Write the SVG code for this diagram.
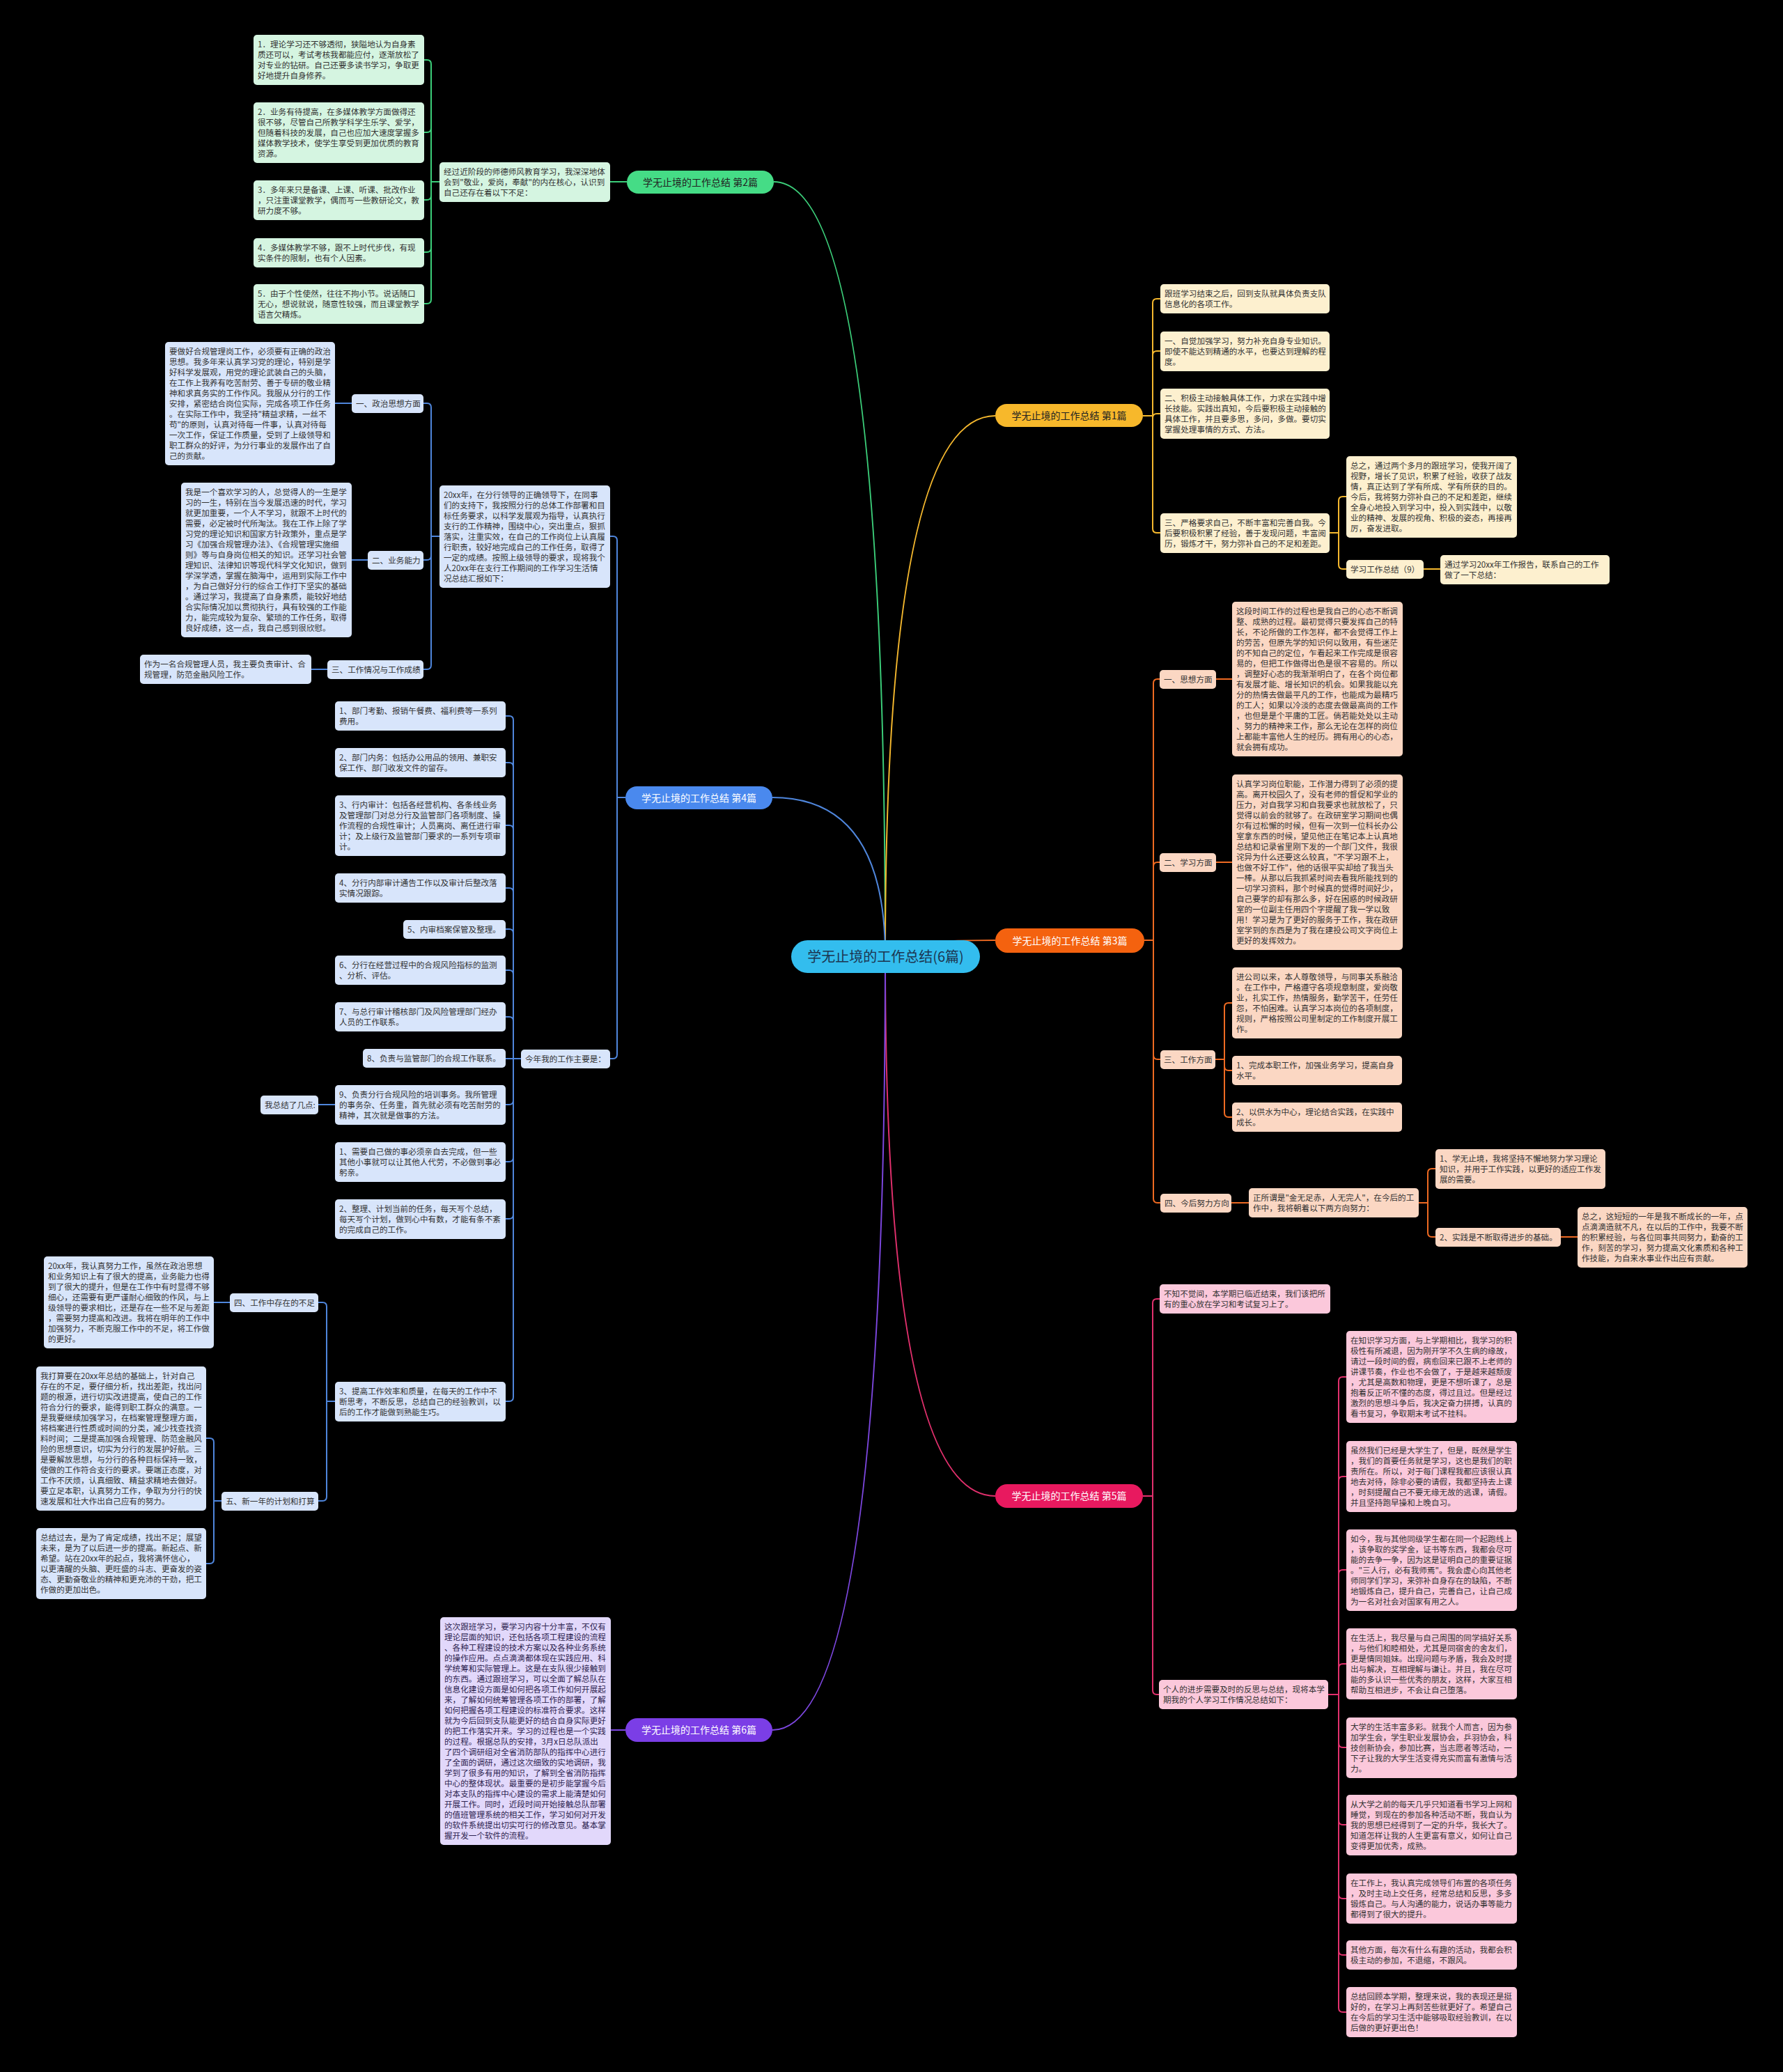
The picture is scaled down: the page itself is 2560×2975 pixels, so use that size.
<svg xmlns="http://www.w3.org/2000/svg" width="2560" height="2975" viewBox="0 0 2560 2975">
<style>
text{font-family:"Noto Sans CJK SC","Noto Sans",sans-serif;}
.t{font-size:11.6px;fill:#333;}
.bt{font-size:14px;fill:#fff;text-anchor:middle;}
.dk{fill:#222;}
.ct{font-size:20px;fill:#1c3550;text-anchor:middle;}
rect{rx:5px;}
.g{fill:#d5f5e1;}
.y{fill:#fdf0cf;}
.bl{fill:#d8e5fb;}
.o{fill:#fbd7c3;}
.p{fill:#fbc8db;}
.v{fill:#e2d8fb;}
path{fill:none;stroke-width:2;}
.cg{stroke:#3ccf7a;}
.cy{stroke:#f5b82e;}
.cb{stroke:#4f86dc;}
.co{stroke:#ee6a22;}
.cp{stroke:#e2306d;}
.cv{stroke:#7d47e0;}
</style>
<rect x="0" y="0" width="2560" height="2975" style="fill:#000;rx:0"/>

<g id="connectors">
<path class="cg" d="M1271 1373 Q1271 261 1111 261"/>
<path class="cy" d="M1271 1373 Q1271 597 1429 597"/>
<path class="cb" d="M1271 1373 Q1271 1145 1109 1145"/>
<path class="co" d="M1271 1373 Q1271 1350 1429 1350"/>
<path class="cp" d="M1271 1373 Q1271 2148 1429 2148"/>
<path class="cv" d="M1271 1373 Q1271 2484 1109 2484"/>
<!-- green -->
<path class="cg" d="M900 261 H876"/>
<path class="cg" d="M631 261 H619 V92 Q619 86 613 86 H609"/>
<path class="cg" d="M631 261 H619 V184 Q619 190 613 190 H609"/>
<path class="cg" d="M631 261 H619 V281 Q619 287 613 287 H609"/>
<path class="cg" d="M631 261 H619 V356 Q619 362 613 362 H609"/>
<path class="cg" d="M631 261 H619 V430 Q619 436 613 436 H609"/>
<!-- blue -->
<path class="cb" d="M898 1145 H886 V776 Q886 770 880 770 H876"/>
<path class="cb" d="M898 1145 H886 V1514 Q886 1520 880 1520 H876"/>
<path class="cb" d="M631 770 H619 V585 Q619 579 613 579 H608"/>
<path class="cb" d="M631 770 H619 V798 Q619 804 613 804 H608"/>
<path class="cb" d="M631 770 H619 V955 Q619 961 613 961 H608"/>
<path class="cb" d="M505 579 H481"/>
<path class="cb" d="M528 804 H505"/>
<path class="cb" d="M470 961 H447"/>
<path class="cb" d="M748 1520 H737 V1034 Q737 1028 731 1028 H726"/>
<path class="cb" d="M748 1520 H737 V1101 Q737 1095 731 1095 H726"/>
<path class="cb" d="M748 1520 H737 V1191 Q737 1185 731 1185 H726"/>
<path class="cb" d="M748 1520 H737 V1281 Q737 1275 731 1275 H726"/>
<path class="cb" d="M748 1520 H737 V1340 Q737 1334 731 1334 H726"/>
<path class="cb" d="M748 1520 H737 V1399 Q737 1393 731 1393 H726"/>
<path class="cb" d="M748 1520 H737 V1466 Q737 1460 731 1460 H726"/>
<path class="cb" d="M748 1520 H726"/>
<path class="cb" d="M748 1520 H737 V1580 Q737 1586 731 1586 H726"/>
<path class="cb" d="M748 1520 H737 V1662 Q737 1668 731 1668 H726"/>
<path class="cb" d="M748 1520 H737 V1744 Q737 1750 731 1750 H726"/>
<path class="cb" d="M748 1520 H737 V2006 Q737 2012 731 2012 H726"/>
<path class="cb" d="M481 1586 H457"/>
<path class="cb" d="M481 2012 H469 V1876 Q469 1870 463 1870 H457"/>
<path class="cb" d="M481 2012 H469 V2149 Q469 2155 463 2155 H457"/>
<path class="cb" d="M330 1870 H307"/>
<path class="cb" d="M318 2155 H307 V2071 Q307 2065 301 2065 H296"/>
<path class="cb" d="M318 2155 H307 V2239 Q307 2245 301 2245 H296"/>
<!-- purple -->
<path class="cv" d="M898 2484 H877"/>
<!-- yellow -->
<path class="cy" d="M1641 597 H1655 V435 Q1655 429 1661 429 H1666"/>
<path class="cy" d="M1641 597 H1655 V510 Q1655 504 1661 504 H1666"/>
<path class="cy" d="M1641 597 H1655 V600 Q1655 594 1661 594 H1666"/>
<path class="cy" d="M1641 597 H1655 V759 Q1655 765 1661 765 H1666"/>
<path class="cy" d="M1909 765 H1922 V719 Q1922 713 1928 713 H1933"/>
<path class="cy" d="M1909 765 H1922 V811 Q1922 817 1928 817 H1933"/>
<path class="cy" d="M2044 817 H2068"/>
<!-- orange -->
<path class="co" d="M1643 1350 H1656 V981 Q1656 975 1662 975 H1665"/>
<path class="co" d="M1643 1350 H1656 V1244 Q1656 1238 1662 1238 H1665"/>
<path class="co" d="M1643 1350 H1656 V1515 Q1656 1521 1662 1521 H1666"/>
<path class="co" d="M1643 1350 H1656 V1721 Q1656 1727 1662 1727 H1666"/>
<path class="co" d="M1746 975 H1769"/>
<path class="co" d="M1746 1238 H1769"/>
<path class="co" d="M1745 1521 H1758 V1446 Q1758 1440 1764 1440 H1769"/>
<path class="co" d="M1745 1521 H1758 V1531 Q1758 1537 1764 1537 H1769"/>
<path class="co" d="M1745 1521 H1758 V1598 Q1758 1604 1764 1604 H1769"/>
<path class="co" d="M1768 1727 H1793"/>
<path class="co" d="M2037 1727 H2050 V1684 Q2050 1678 2056 1678 H2061"/>
<path class="co" d="M2037 1727 H2050 V1770 Q2050 1776 2056 1776 H2061"/>
<path class="co" d="M2241 1776 H2265"/>
<!-- pink -->
<path class="cp" d="M1641 2148 H1655 V1871 Q1655 1865 1661 1865 H1665"/>
<path class="cp" d="M1641 2148 H1655 V2427 Q1655 2433 1661 2433 H1664"/>
<path class="cp" d="M1907 2433 H1922 V1983 Q1922 1977 1928 1977 H1933"/>
<path class="cp" d="M1907 2433 H1922 V2126 Q1922 2120 1928 2120 H1933"/>
<path class="cp" d="M1907 2433 H1922 V2260 Q1922 2254 1928 2254 H1933"/>
<path class="cp" d="M1907 2433 H1922 V2395 Q1922 2389 1928 2389 H1933"/>
<path class="cp" d="M1907 2433 H1922 V2503 Q1922 2509 1928 2509 H1933"/>
<path class="cp" d="M1907 2433 H1922 V2614 Q1922 2620 1928 2620 H1933"/>
<path class="cp" d="M1907 2433 H1922 V2720 Q1922 2726 1928 2726 H1933"/>
<path class="cp" d="M1907 2433 H1922 V2801 Q1922 2807 1928 2807 H1933"/>
<path class="cp" d="M1907 2433 H1922 V2883 Q1922 2889 1928 2889 H1933"/>
</g>

<g id="center"><rect x="1136" y="1350" width="271" height="47" style="fill:#33bdee;rx:23.5px"/><text class="ct" x="1271.5" y="1381">学无止境的工作总结(6篇)</text></g>

<g id="b2"><rect x="900" y="245" width="211" height="33" style="fill:#45dc86;rx:16.5px"/><text class="bt dk" x="1005.5" y="266.5">学无止境的工作总结 第2篇</text></g>
<g id="b1"><rect x="1429" y="580" width="212" height="33" style="fill:#f7b82b;rx:16.5px"/><text class="bt dk" x="1535" y="601.5">学无止境的工作总结 第1篇</text></g>
<g id="b4"><rect x="898" y="1129" width="211" height="33" style="fill:#4a89ee;rx:16.5px"/><text class="bt" x="1003.5" y="1150.5">学无止境的工作总结 第4篇</text></g>
<g id="b3"><rect x="1429" y="1333" width="214" height="35" style="fill:#f4620f;rx:17.5px"/><text class="bt" x="1536" y="1355.5">学无止境的工作总结 第3篇</text></g>
<g id="b5"><rect x="1429" y="2131" width="212" height="34" style="fill:#e8195f;rx:17px"/><text class="bt" x="1535" y="2153">学无止境的工作总结 第5篇</text></g>
<g id="b6"><rect x="898" y="2467" width="211" height="34" style="fill:#7b3ee6;rx:17px"/><text class="bt" x="1003.5" y="2489">学无止境的工作总结 第6篇</text></g>

<!-- green subtree -->
<g id="g0"><rect class="g" x="631" y="233" width="245" height="57"/><text class="t" x="637" y="251"><tspan x="637">经过近阶段的师德师风教育学习，我深深地体</tspan><tspan x="637" dy="15">会到"敬业，爱岗，奉献"的内在核心，认识到</tspan><tspan x="637" dy="15">自己还存在着以下不足：</tspan></text></g>
<g id="g1"><rect class="g" x="364" y="50" width="245" height="72"/><text class="t" x="370" y="68"><tspan x="370">1．理论学习还不够透彻，狭隘地认为自身素</tspan><tspan x="370" dy="15">质还可以，考试考核我都能应付，逐渐放松了</tspan><tspan x="370" dy="15">对专业的钻研。自己还要多读书学习，争取更</tspan><tspan x="370" dy="15">好地提升自身修养。</tspan></text></g>
<g id="g2"><rect class="g" x="364" y="147" width="245" height="87"/><text class="t" x="370" y="165"><tspan x="370">2．业务有待提高，在多媒体教学方面做得还</tspan><tspan x="370" dy="15">很不够，尽管自己所教学科学生乐学、爱学，</tspan><tspan x="370" dy="15">但随着科技的发展，自己也应加大速度掌握多</tspan><tspan x="370" dy="15">媒体教学技术，使学生享受到更加优质的教育</tspan><tspan x="370" dy="15">资源。</tspan></text></g>
<g id="g3"><rect class="g" x="364" y="259" width="245" height="57"/><text class="t" x="370" y="277"><tspan x="370">3．多年来只是备课、上课、听课、批改作业</tspan><tspan x="370" dy="15">，只注重课堂教学，偶而写一些教研论文，教</tspan><tspan x="370" dy="15">研力度不够。</tspan></text></g>
<g id="g4"><rect class="g" x="364" y="342" width="245" height="42"/><text class="t" x="370" y="360"><tspan x="370">4．多媒体教学不够，跟不上时代步伐，有现</tspan><tspan x="370" dy="15">实条件的限制，也有个人因素。</tspan></text></g>
<g id="g5"><rect class="g" x="364" y="408" width="245" height="57"/><text class="t" x="370" y="426"><tspan x="370">5．由于个性使然，往往不拘小节。说话随口</tspan><tspan x="370" dy="15">无心，想说就说，随意性较强，而且课堂教学</tspan><tspan x="370" dy="15">语言欠精炼。</tspan></text></g>

<!-- blue subtree -->
<g id="bA"><rect class="bl" x="631" y="697" width="245" height="147"/><text class="t" x="637" y="715"><tspan x="637">20xx年，在分行领导的正确领导下，在同事</tspan><tspan x="637" dy="15">们的支持下，我按照分行的总体工作部署和目</tspan><tspan x="637" dy="15">标任务要求，以科学发展观为指导，认真执行</tspan><tspan x="637" dy="15">支行的工作精神，围绕中心，突出重点，狠抓</tspan><tspan x="637" dy="15">落实，注重实效，在自己的工作岗位上认真履</tspan><tspan x="637" dy="15">行职责，较好地完成自己的工作任务，取得了</tspan><tspan x="637" dy="15">一定的成绩。按照上级领导的要求，现将我个</tspan><tspan x="637" dy="15">人20xx年在支行工作期间的工作学习生活情</tspan><tspan x="637" dy="15">况总结汇报如下：</tspan></text></g>
<g id="bL1"><rect class="bl" x="505" y="566" width="103" height="27"/><text class="t" x="511" y="584">一、政治思想方面</text></g>
<g id="bL2"><rect class="bl" x="528" y="791" width="80" height="27"/><text class="t" x="534" y="809">二、业务能力</text></g>
<g id="bL3"><rect class="bl" x="470" y="948" width="138" height="27"/><text class="t" x="476" y="966">三、工作情况与工作成绩</text></g>
<g id="bT1"><rect class="bl" x="237" y="491" width="244" height="177"/><text class="t" x="243" y="509"><tspan x="243">要做好合规管理岗工作，必须要有正确的政治</tspan><tspan x="243" dy="15">思想。我多年来认真学习党的理论，特别是学</tspan><tspan x="243" dy="15">好科学发展观，用党的理论武装自己的头脑，</tspan><tspan x="243" dy="15">在工作上我养有吃苦耐劳、善于专研的敬业精</tspan><tspan x="243" dy="15">神和求真务实的工作作风。我服从分行的工作</tspan><tspan x="243" dy="15">安排，紧密结合岗位实际，完成各项工作任务</tspan><tspan x="243" dy="15">。在实际工作中，我坚持"精益求精，一丝不</tspan><tspan x="243" dy="15">苟"的原则，认真对待每一件事，认真对待每</tspan><tspan x="243" dy="15">一次工作，保证工作质量，受到了上级领导和</tspan><tspan x="243" dy="15">职工群众的好评，为分行事业的发展作出了自</tspan><tspan x="243" dy="15">己的贡献。</tspan></text></g>
<g id="bT2"><rect class="bl" x="260" y="693" width="245" height="222"/><text class="t" x="266" y="711"><tspan x="266">我是一个喜欢学习的人，总觉得人的一生是学</tspan><tspan x="266" dy="15">习的一生，特别在当今发展迅速的时代，学习</tspan><tspan x="266" dy="15">就更加重要，一个人不学习，就跟不上时代的</tspan><tspan x="266" dy="15">需要，必定被时代所淘汰。我在工作上除了学</tspan><tspan x="266" dy="15">习党的理论知识和国家方针政策外，重点是学</tspan><tspan x="266" dy="15">习《加强合规管理办法》、《合规管理实施细</tspan><tspan x="266" dy="15">则》等与自身岗位相关的知识。还学习社会管</tspan><tspan x="266" dy="15">理知识、法律知识等现代科学文化知识，做到</tspan><tspan x="266" dy="15">学深学透，掌握在脑海中，运用到实际工作中</tspan><tspan x="266" dy="15">，为自己做好分行的综合工作打下坚实的基础</tspan><tspan x="266" dy="15">。通过学习，我提高了自身素质，能较好地结</tspan><tspan x="266" dy="15">合实际情况加以贯彻执行，具有较强的工作能</tspan><tspan x="266" dy="15">力，能完成较为复杂、繁琐的工作任务，取得</tspan><tspan x="266" dy="15">良好成绩，这一点，我自己感到很欣慰。</tspan></text></g>
<g id="bT3"><rect class="bl" x="201" y="940" width="246" height="42"/><text class="t" x="207" y="958"><tspan x="207">作为一名合规管理人员，我主要负责审计、合</tspan><tspan x="207" dy="15">规管理，防范金融风险工作。</tspan></text></g>
<g id="bB"><rect class="bl" x="748" y="1507" width="128" height="27"/><text class="t" x="754" y="1525">今年我的工作主要是：</text></g>
<g id="bI1"><rect class="bl" x="481" y="1007" width="245" height="42"/><text class="t" x="487" y="1025"><tspan x="487">1、部门考勤、报销午餐费、福利费等一系列</tspan><tspan x="487" dy="15">费用。</tspan></text></g>
<g id="bI2"><rect class="bl" x="481" y="1074" width="245" height="42"/><text class="t" x="487" y="1092"><tspan x="487">2、部门内务：包括办公用品的领用、兼职安</tspan><tspan x="487" dy="15">保工作、部门收发文件的留存。</tspan></text></g>
<g id="bI3"><rect class="bl" x="481" y="1142" width="245" height="87"/><text class="t" x="487" y="1160"><tspan x="487">3、行内审计：包括各经营机构、各条线业务</tspan><tspan x="487" dy="15">及管理部门对总分行及监管部门各项制度、操</tspan><tspan x="487" dy="15">作流程的合规性审计；人员离岗、离任进行审</tspan><tspan x="487" dy="15">计；及上级行及监管部门要求的一系列专项审</tspan><tspan x="487" dy="15">计。</tspan></text></g>
<g id="bI4"><rect class="bl" x="481" y="1254" width="245" height="42"/><text class="t" x="487" y="1272"><tspan x="487">4、分行内部审计通告工作以及审计后整改落</tspan><tspan x="487" dy="15">实情况跟踪。</tspan></text></g>
<g id="bI5"><rect class="bl" x="579" y="1321" width="147" height="27"/><text class="t" x="585" y="1339">5、内审档案保管及整理。</text></g>
<g id="bI6"><rect class="bl" x="481" y="1372" width="245" height="42"/><text class="t" x="487" y="1390"><tspan x="487">6、分行在经营过程中的合规风险指标的监测</tspan><tspan x="487" dy="15">、分析、评估。</tspan></text></g>
<g id="bI7"><rect class="bl" x="481" y="1439" width="245" height="42"/><text class="t" x="487" y="1457"><tspan x="487">7、与总行审计稽核部门及风险管理部门经办</tspan><tspan x="487" dy="15">人员的工作联系。</tspan></text></g>
<g id="bI8"><rect class="bl" x="521" y="1506" width="205" height="27"/><text class="t" x="527" y="1524">8、负责与监管部门的合规工作联系。</text></g>
<g id="bI9"><rect class="bl" x="481" y="1558" width="245" height="57"/><text class="t" x="487" y="1576"><tspan x="487">9、负责分行合规风险的培训事务。我所管理</tspan><tspan x="487" dy="15">的事务杂、任务重，首先就必须有吃苦耐劳的</tspan><tspan x="487" dy="15">精神，其次就是做事的方法。</tspan></text></g>
<g id="bI9a"><rect class="bl" x="374" y="1573" width="83" height="27"/><text class="t" x="380" y="1591">我总结了几点:</text></g>
<g id="bI10"><rect class="bl" x="481" y="1640" width="245" height="57"/><text class="t" x="487" y="1658"><tspan x="487">1、需要自己做的事必须亲自去完成，但一些</tspan><tspan x="487" dy="15">其他小事就可以让其他人代劳，不必做到事必</tspan><tspan x="487" dy="15">躬亲。</tspan></text></g>
<g id="bI11"><rect class="bl" x="481" y="1722" width="245" height="57"/><text class="t" x="487" y="1740"><tspan x="487">2、整理、计划当前的任务，每天写个总结，</tspan><tspan x="487" dy="15">每天写个计划，做到心中有数，才能有条不紊</tspan><tspan x="487" dy="15">的完成自己的工作。</tspan></text></g>
<g id="bI12"><rect class="bl" x="481" y="1984" width="245" height="57"/><text class="t" x="487" y="2002"><tspan x="487">3、提高工作效率和质量，在每天的工作中不</tspan><tspan x="487" dy="15">断思考，不断反思，总结自己的经验教训，以</tspan><tspan x="487" dy="15">后的工作才能做到熟能生巧。</tspan></text></g>
<g id="bL4"><rect class="bl" x="330" y="1857" width="127" height="27"/><text class="t" x="336" y="1875">四、工作中存在的不足</text></g>
<g id="bT4"><rect class="bl" x="63" y="1804" width="244" height="132"/><text class="t" x="69" y="1822"><tspan x="69">20xx年，我认真努力工作，虽然在政治思想</tspan><tspan x="69" dy="15">和业务知识上有了很大的提高，业务能力也得</tspan><tspan x="69" dy="15">到了很大的提升，但是在工作中有时显得不够</tspan><tspan x="69" dy="15">细心，还需要有更严谨耐心细致的作风，与上</tspan><tspan x="69" dy="15">级领导的要求相比，还是存在一些不足与差距</tspan><tspan x="69" dy="15">，需要努力提高和改进。我将在明年的工作中</tspan><tspan x="69" dy="15">加强努力，不断克服工作中的不足，将工作做</tspan><tspan x="69" dy="15">的更好。</tspan></text></g>
<g id="bL5"><rect class="bl" x="318" y="2142" width="139" height="27"/><text class="t" x="324" y="2160">五、新一年的计划和打算</text></g>
<g id="bT5a"><rect class="bl" x="52" y="1962" width="244" height="207"/><text class="t" x="58" y="1980"><tspan x="58">我打算要在20xx年总结的基础上，针对自己</tspan><tspan x="58" dy="15">存在的不足，要仔细分析，找出差距，找出问</tspan><tspan x="58" dy="15">题的根源，进行切实改进提高，使自己的工作</tspan><tspan x="58" dy="15">符合分行的要求，能得到职工群众的满意。一</tspan><tspan x="58" dy="15">是我要继续加强学习，在档案管理整理方面，</tspan><tspan x="58" dy="15">将档案进行性质或时间的分类，减少找查找资</tspan><tspan x="58" dy="15">料时间；二是提高加强合规管理、防范金融风</tspan><tspan x="58" dy="15">险的思想意识，切实为分行的发展护好航。三</tspan><tspan x="58" dy="15">是要解放思想，与分行的各种目标保持一致，</tspan><tspan x="58" dy="15">使做的工作符合支行的要求。要端正态度，对</tspan><tspan x="58" dy="15">工作不厌烦，认真细致、精益求精地去做好。</tspan><tspan x="58" dy="15">要立足本职，认真努力工作，争取为分行的快</tspan><tspan x="58" dy="15">速发展和壮大作出自己应有的努力。</tspan></text></g>
<g id="bT5b"><rect class="bl" x="52" y="2194" width="244" height="102"/><text class="t" x="58" y="2212"><tspan x="58">总结过去，是为了肯定成绩，找出不足；展望</tspan><tspan x="58" dy="15">未来，是为了以后进一步的提高。新起点、新</tspan><tspan x="58" dy="15">希望。站在20xx年的起点，我将满怀信心，</tspan><tspan x="58" dy="15">以更清醒的头脑、更旺盛的斗志、更奋发的姿</tspan><tspan x="58" dy="15">态、更勤奋敬业的精神和更充沛的干劲，把工</tspan><tspan x="58" dy="15">作做的更加出色。</tspan></text></g>

<!-- purple -->
<g id="v1"><rect class="v" x="632" y="2322" width="245" height="327"/><text class="t" x="638" y="2340" style="fill:#2e2450"><tspan x="638">这次跟班学习，要学习内容十分丰富，不仅有</tspan><tspan x="638" dy="15">理论层面的知识，还包括各项工程建设的流程</tspan><tspan x="638" dy="15">、各种工程建设的技术方案以及各种业务系统</tspan><tspan x="638" dy="15">的操作应用。点点滴滴都体现在实践应用、科</tspan><tspan x="638" dy="15">学统筹和实际管理上。这是在支队很少接触到</tspan><tspan x="638" dy="15">的东西。通过跟班学习，可以全面了解总队在</tspan><tspan x="638" dy="15">信息化建设方面是如何把各项工作如何开展起</tspan><tspan x="638" dy="15">来，了解如何统筹管理各项工作的部署，了解</tspan><tspan x="638" dy="15">如何把握各项工程建设的标准符合要求。这样</tspan><tspan x="638" dy="15">就为今后回到支队能更好的结合自身实际更好</tspan><tspan x="638" dy="15">的把工作落实开来。学习的过程也是一个实践</tspan><tspan x="638" dy="15">的过程。根据总队的安排，3月x日总队派出</tspan><tspan x="638" dy="15">了四个调研组对全省消防部队的指挥中心进行</tspan><tspan x="638" dy="15">了全面的调研，通过这次细致的实地调研，我</tspan><tspan x="638" dy="15">学到了很多有用的知识，了解到全省消防指挥</tspan><tspan x="638" dy="15">中心的整体现状。最重要的是初步能掌握今后</tspan><tspan x="638" dy="15">对本支队的指挥中心建设的需求上能清楚如何</tspan><tspan x="638" dy="15">开展工作。同时，近段时间开始接触总队部署</tspan><tspan x="638" dy="15">的值班管理系统的相关工作，学习如何对开发</tspan><tspan x="638" dy="15">的软件系统提出切实可行的修改意见。基本掌</tspan><tspan x="638" dy="15">握开发一个软件的流程。</tspan></text></g>

<!-- yellow -->
<g id="y1"><rect class="y" x="1666" y="408" width="243" height="42"/><text class="t" x="1672" y="426"><tspan x="1672">跟班学习结束之后，回到支队就具体负责支队</tspan><tspan x="1672" dy="15">信息化的各项工作。</tspan></text></g>
<g id="y2"><rect class="y" x="1666" y="476" width="243" height="57"/><text class="t" x="1672" y="494"><tspan x="1672">一、自觉加强学习，努力补充自身专业知识。</tspan><tspan x="1672" dy="15">即使不能达到精通的水平，也要达到理解的程</tspan><tspan x="1672" dy="15">度。</tspan></text></g>
<g id="y3"><rect class="y" x="1666" y="558" width="243" height="72"/><text class="t" x="1672" y="576"><tspan x="1672">二、积极主动接触具体工作，力求在实践中增</tspan><tspan x="1672" dy="15">长技能。实践出真知，今后要积极主动接触的</tspan><tspan x="1672" dy="15">具体工作，并且要多思，多问，多做。要切实</tspan><tspan x="1672" dy="15">掌握处理事情的方式、方法。</tspan></text></g>
<g id="y4"><rect class="y" x="1666" y="737" width="243" height="57"/><text class="t" x="1672" y="755"><tspan x="1672">三、严格要求自己，不断丰富和完善自我。今</tspan><tspan x="1672" dy="15">后要积极积累了经验，善于发现问题，丰富阅</tspan><tspan x="1672" dy="15">历，锻炼才干，努力弥补自己的不足和差距。</tspan></text></g>
<g id="y5"><rect class="y" x="1933" y="655" width="245" height="117"/><text class="t" x="1939" y="673"><tspan x="1939">总之，通过两个多月的跟班学习，使我开阔了</tspan><tspan x="1939" dy="15">视野，增长了见识，积累了经验，收获了战友</tspan><tspan x="1939" dy="15">情，真正达到了学有所成、学有所获的目的。</tspan><tspan x="1939" dy="15">今后，我将努力弥补自己的不足和差距，继续</tspan><tspan x="1939" dy="15">全身心地投入到学习中，投入到实践中，以敬</tspan><tspan x="1939" dy="15">业的精神、发展的视角、积极的姿态，再接再</tspan><tspan x="1939" dy="15">厉，奋发进取。</tspan></text></g>
<g id="y6"><rect class="y" x="1933" y="804" width="111" height="27"/><text class="t" x="1939" y="822">学习工作总结（9）</text></g>
<g id="y7"><rect class="y" x="2068" y="797" width="243" height="42"/><text class="t" x="2074" y="815"><tspan x="2074">通过学习20xx年工作报告，联系自己的工作</tspan><tspan x="2074" dy="15">做了一下总结：</tspan></text></g>

<!-- orange -->
<g id="o1"><rect class="o" x="1665" y="962" width="81" height="27"/><text class="t" x="1671" y="980">一、思想方面</text></g>
<g id="o1t"><rect class="o" x="1769" y="864" width="245" height="222"/><text class="t" x="1775" y="882"><tspan x="1775">这段时间工作的过程也是我自己的心态不断调</tspan><tspan x="1775" dy="15">整、成熟的过程。最初觉得只要发挥自己的特</tspan><tspan x="1775" dy="15">长，不论所做的工作怎样，都不会觉得工作上</tspan><tspan x="1775" dy="15">的劳苦，但原先学的知识何以致用，有些迷茫</tspan><tspan x="1775" dy="15">的不知自己的定位，乍看起来工作完成是很容</tspan><tspan x="1775" dy="15">易的，但把工作做得出色是很不容易的。所以</tspan><tspan x="1775" dy="15">，调整好心态的我渐渐明白了，在各个岗位都</tspan><tspan x="1775" dy="15">有发展才能、增长知识的机会。如果我能以充</tspan><tspan x="1775" dy="15">分的热情去做最平凡的工作，也能成为最精巧</tspan><tspan x="1775" dy="15">的工人；如果以冷淡的态度去做最高尚的工作</tspan><tspan x="1775" dy="15">，也但是是个平庸的工匠。倘若能处处以主动</tspan><tspan x="1775" dy="15">、努力的精神来工作，那么无论在怎样的岗位</tspan><tspan x="1775" dy="15">上都能丰富他人生的经历。拥有用心的心态，</tspan><tspan x="1775" dy="15">就会拥有成功。</tspan></text></g>
<g id="o2"><rect class="o" x="1665" y="1225" width="81" height="27"/><text class="t" x="1671" y="1243">二、学习方面</text></g>
<g id="o2t"><rect class="o" x="1769" y="1112" width="245" height="252"/><text class="t" x="1775" y="1130"><tspan x="1775">认真学习岗位职能，工作潜力得到了必须的提</tspan><tspan x="1775" dy="15">高。离开校园久了，没有老师的督促和学业的</tspan><tspan x="1775" dy="15">压力，对自我学习和自我要求也就放松了，只</tspan><tspan x="1775" dy="15">觉得以前会的就够了。在政研室学习期间也偶</tspan><tspan x="1775" dy="15">尔有过松懈的时候，但有一次到一位科长办公</tspan><tspan x="1775" dy="15">室拿东西的时候，望见他正在笔记本上认真地</tspan><tspan x="1775" dy="15">总结和记录省里刚下发的一个部门文件，我很</tspan><tspan x="1775" dy="15">诧异为什么还要这么较真，"不学习跟不上，</tspan><tspan x="1775" dy="15">也做不好工作"，他的话很平实却给了我当头</tspan><tspan x="1775" dy="15">一棒。从那以后我抓紧时间去看我所能找到的</tspan><tspan x="1775" dy="15">一切学习资料，那个时候真的觉得时间好少，</tspan><tspan x="1775" dy="15">自己要学的却有那么多，好在困惑的时候政研</tspan><tspan x="1775" dy="15">室的一位副主任用四个字提醒了我一学以致</tspan><tspan x="1775" dy="15">用！学习是为了更好的服务于工作，我在政研</tspan><tspan x="1775" dy="15">室学到的东西是为了我在建投公司文字岗位上</tspan><tspan x="1775" dy="15">更好的发挥效力。</tspan></text></g>
<g id="o3"><rect class="o" x="1666" y="1508" width="79" height="27"/><text class="t" x="1671" y="1526">三、工作方面</text></g>
<g id="o3a"><rect class="o" x="1769" y="1389" width="244" height="102"/><text class="t" x="1775" y="1407"><tspan x="1775">进公司以来，本人尊敬领导，与同事关系融洽</tspan><tspan x="1775" dy="15">。在工作中，严格遵守各项规章制度，爱岗敬</tspan><tspan x="1775" dy="15">业，扎实工作，热情服务，勤学苦干，任劳任</tspan><tspan x="1775" dy="15">怨，不怕困难。认真学习本岗位的各项制度，</tspan><tspan x="1775" dy="15">规则，严格按照公司里制定的工作制度开展工</tspan><tspan x="1775" dy="15">作。</tspan></text></g>
<g id="o3b"><rect class="o" x="1769" y="1516" width="244" height="42"/><text class="t" x="1775" y="1534"><tspan x="1775">1、完成本职工作，加强业务学习，提高自身</tspan><tspan x="1775" dy="15">水平。</tspan></text></g>
<g id="o3c"><rect class="o" x="1769" y="1583" width="244" height="42"/><text class="t" x="1775" y="1601"><tspan x="1775">2、以供水为中心，理论结合实践，在实践中</tspan><tspan x="1775" dy="15">成长。</tspan></text></g>
<g id="o4"><rect class="o" x="1666" y="1714" width="102" height="27"/><text class="t" x="1672" y="1732">四、今后努力方向</text></g>
<g id="o4a"><rect class="o" x="1793" y="1706" width="244" height="42"/><text class="t" x="1799" y="1724"><tspan x="1799">正所谓是"金无足赤，人无完人"，在今后的工</tspan><tspan x="1799" dy="15">作中，我将朝着以下两方向努力：</tspan></text></g>
<g id="o4b"><rect class="o" x="2061" y="1650" width="244" height="57"/><text class="t" x="2067" y="1668"><tspan x="2067">1、学无止境，我将坚持不懈地努力学习理论</tspan><tspan x="2067" dy="15">知识，并用于工作实践，以更好的适应工作发</tspan><tspan x="2067" dy="15">展的需要。</tspan></text></g>
<g id="o4c"><rect class="o" x="2061" y="1763" width="180" height="27"/><text class="t" x="2067" y="1781">2、实践是不断取得进步的基础。</text></g>
<g id="o4d"><rect class="o" x="2265" y="1733" width="244" height="87"/><text class="t" x="2271" y="1751"><tspan x="2271">总之，这短短的一年是我不断成长的一年，点</tspan><tspan x="2271" dy="15">点滴滴造就不凡，在以后的工作中，我要不断</tspan><tspan x="2271" dy="15">的积累经验，与各位同事共同努力，勤奋的工</tspan><tspan x="2271" dy="15">作，刻苦的学习，努力提高文化素质和各种工</tspan><tspan x="2271" dy="15">作技能，为自来水事业作出应有贡献。</tspan></text></g>

<!-- pink -->
<g id="p0"><rect class="p" x="1665" y="1844" width="245" height="42"/><text class="t" x="1671" y="1862"><tspan x="1671">不知不觉间，本学期已临近结束，我们该把所</tspan><tspan x="1671" dy="15">有的重心放在学习和考试复习上了。</tspan></text></g>
<g id="p1"><rect class="p" x="1664" y="2412" width="243" height="42"/><text class="t" x="1670" y="2430"><tspan x="1670">个人的进步需要及时的反思与总结，现将本学</tspan><tspan x="1670" dy="15">期我的个人学习工作情况总结如下：</tspan></text></g>
<g id="pe1"><rect class="p" x="1933" y="1911" width="245" height="132"/><text class="t" x="1939" y="1929"><tspan x="1939">在知识学习方面，与上学期相比，我学习的积</tspan><tspan x="1939" dy="15">极性有所减退，因为刚开学不久生病的缘故，</tspan><tspan x="1939" dy="15">请过一段时间的假，病愈回来已跟不上老师的</tspan><tspan x="1939" dy="15">讲课节奏，作业也不会做了，于是越来越颓废</tspan><tspan x="1939" dy="15">，尤其是高数和物理，更是不想听课了，总是</tspan><tspan x="1939" dy="15">抱着反正听不懂的态度，得过且过。但是经过</tspan><tspan x="1939" dy="15">激烈的思想斗争后，我决定奋力拼搏，认真的</tspan><tspan x="1939" dy="15">看书复习，争取期末考试不挂科。</tspan></text></g>
<g id="pe2"><rect class="p" x="1933" y="2069" width="245" height="102"/><text class="t" x="1939" y="2087"><tspan x="1939">虽然我们已经是大学生了，但是，既然是学生</tspan><tspan x="1939" dy="15">，我们的首要任务就是学习，这也是我们的职</tspan><tspan x="1939" dy="15">责所在。所以，对于每门课程我都应该很认真</tspan><tspan x="1939" dy="15">地去对待，除非必要的请假，我都坚持去上课</tspan><tspan x="1939" dy="15">，时刻提醒自己不要无缘无故的逃课，请假。</tspan><tspan x="1939" dy="15">并且坚持跑早操和上晚自习。</tspan></text></g>
<g id="pe3"><rect class="p" x="1933" y="2196" width="245" height="117"/><text class="t" x="1939" y="2214"><tspan x="1939">如今，我与其他同级学生都在同一个起跑线上</tspan><tspan x="1939" dy="15">，该争取的奖学金，证书等东西，我都会尽可</tspan><tspan x="1939" dy="15">能的去争一争，因为这是证明自己的重要证据</tspan><tspan x="1939" dy="15">。"三人行，必有我师焉"。我会虚心向其他老</tspan><tspan x="1939" dy="15">师同学们学习，来弥补自身存在的缺陷，不断</tspan><tspan x="1939" dy="15">地锻炼自己，提升自己，完善自己，让自己成</tspan><tspan x="1939" dy="15">为一名对社会对国家有用之人。</tspan></text></g>
<g id="pe4"><rect class="p" x="1933" y="2338" width="245" height="102"/><text class="t" x="1939" y="2356"><tspan x="1939">在生活上，我尽量与自己周围的同学搞好关系</tspan><tspan x="1939" dy="15">，与他们和睦相处，尤其是同宿舍的舍友们，</tspan><tspan x="1939" dy="15">更是情同姐妹。出现问题与矛盾，我会及时提</tspan><tspan x="1939" dy="15">出与解决，互相理解与谦让。并且，我在尽可</tspan><tspan x="1939" dy="15">能的多认识一些优秀的朋友，这样，大家互相</tspan><tspan x="1939" dy="15">帮助互相进步，不会让自己堕落。</tspan></text></g>
<g id="pe5"><rect class="p" x="1933" y="2466" width="245" height="87"/><text class="t" x="1939" y="2484"><tspan x="1939">大学的生活丰富多彩。就我个人而言，因为参</tspan><tspan x="1939" dy="15">加学生会，学生职业发展协会，乒羽协会，科</tspan><tspan x="1939" dy="15">技创新协会，参加比赛，当志愿者等活动，一</tspan><tspan x="1939" dy="15">下子让我的大学生活变得充实而富有激情与活</tspan><tspan x="1939" dy="15">力。</tspan></text></g>
<g id="pe6"><rect class="p" x="1933" y="2577" width="245" height="87"/><text class="t" x="1939" y="2595"><tspan x="1939">从大学之前的每天几乎只知道看书学习上网和</tspan><tspan x="1939" dy="15">睡觉，到现在的参加各种活动不断，我自认为</tspan><tspan x="1939" dy="15">我的思想已经得到了一定的升华，我长大了。</tspan><tspan x="1939" dy="15">知道怎样让我的人生更富有意义，如何让自己</tspan><tspan x="1939" dy="15">变得更加优秀，成熟。</tspan></text></g>
<g id="pe7"><rect class="p" x="1933" y="2690" width="245" height="72"/><text class="t" x="1939" y="2708"><tspan x="1939">在工作上，我认真完成领导们布置的各项任务</tspan><tspan x="1939" dy="15">，及时主动上交任务，经常总结和反思，多多</tspan><tspan x="1939" dy="15">锻炼自己。与人沟通的能力，说话办事等能力</tspan><tspan x="1939" dy="15">都得到了很大的提升。</tspan></text></g>
<g id="pe8"><rect class="p" x="1933" y="2786" width="245" height="42"/><text class="t" x="1939" y="2804"><tspan x="1939">其他方面，每次有什么有趣的活动，我都会积</tspan><tspan x="1939" dy="15">极主动的参加，不退缩，不跟风。</tspan></text></g>
<g id="pe9"><rect class="p" x="1933" y="2853" width="245" height="72"/><text class="t" x="1939" y="2871"><tspan x="1939">总结回顾本学期，整理来说，我的表现还是挺</tspan><tspan x="1939" dy="15">好的，在学习上再刻苦些就更好了。希望自己</tspan><tspan x="1939" dy="15">在今后的学习生活中能够吸取经验教训，在以</tspan><tspan x="1939" dy="15">后做的更好更出色！</tspan></text></g>
</svg>
